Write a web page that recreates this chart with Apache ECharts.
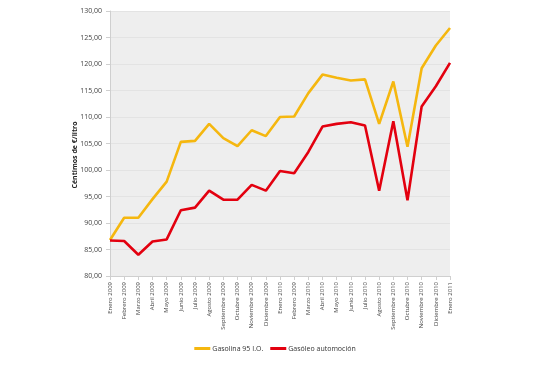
<!DOCTYPE html>
<html><head><meta charset="utf-8">
<script src="https://cdn.jsdelivr.net/npm/echarts@6/dist/echarts.min.js"></script>
<style>html,body{margin:0;padding:0;background:#fff}#c{width:550px;height:368px}</style>
</head><body><div id="c"></div>
<script>
const categories = ["Enero 2009","Febrero 2009","Marzo 2009","Abril 2009","Mayo 2009","Junio 2009","Julio 2009","Agosto 2009","Septiembre 2009","Octubre 2009","Noviembre 2009","Diciembre 2009","Enero 2010","Febrero 2009","Marzo 2010","Abril 2010","Mayo 2010","Junio 2010","Julio 2010","Agosto 2010","Septiembre 2010","Octubre 2010","Noviembre 2010","Diciembre 2010","Enero 2011"];
const gasolina = [86.8,91.0,91.0,94.5,97.8,105.3,105.5,108.7,106.0,104.5,107.5,106.4,110.0,110.1,114.5,118.0,117.4,116.9,117.1,108.7,116.7,104.4,119.2,123.5,126.8];
const gasoleo = [86.7,86.6,84.0,86.5,86.9,92.4,92.9,96.1,94.4,94.4,97.2,96.1,99.8,99.4,103.4,108.2,108.7,109.0,108.4,96.1,109.2,94.3,112.0,115.8,120.2];
const yTicks = {min:80, max:130, interval:5};
const yTitle = 'Céntimos de €/litro';

const chart = echarts.init(document.getElementById('c'), null, {renderer:'canvas'});
chart.setOption({
  animation:false,
  backgroundColor:'#ffffff',
  textStyle:{fontFamily:'Open Sans'},
  grid:{left:110, right:100, top:11, bottom:92, show:true, backgroundColor:'#eeeeee', borderWidth:0},
  graphic:[{
    type:'text', x:75, y:155, rotation:Math.PI/2,
    style:{text:yTitle, fontSize:7, fontWeight:'bold', fill:'#222', fontFamily:'Open Sans', align:'center', verticalAlign:'middle'}
  }],
  legend:{
    bottom:11, left:'center',
    icon:'rect', itemWidth:16, itemHeight:3, itemGap:7,
    textStyle:{fontSize:7, color:'#333', fontFamily:'Open Sans', padding:[0,0,0,-3]},
    data:['Gasolina 95 I.O.','Gasóleo automoción']
  },
  xAxis:{
    type:'category', data:categories, boundaryGap:false,
    axisLine:{lineStyle:{color:'#cfcfcf'}},
    axisTick:{show:true, lineStyle:{color:'#cfcfcf'}, length:4},
    axisLabel:{rotate:90, fontSize:6, color:'#444', interval:0, margin:6}
  },
  yAxis:{
    type:'value', min:yTicks.min, max:yTicks.max, interval:yTicks.interval,
    axisLine:{show:true, lineStyle:{color:'#cfcfcf'}},
    axisTick:{show:true, lineStyle:{color:'#cfcfcf'}, length:4},
    axisLabel:{fontSize:7, color:'#444', formatter:v=>v.toFixed(2).replace('.',',')},
    splitLine:{lineStyle:{color:'#e3e3e3'}}
  },
  series:[
    {name:'Gasolina 95 I.O.', type:'line', data:gasolina, symbol:'none', lineStyle:{width:2.6, color:'#f5b70f'}, itemStyle:{color:'#f5b70f'}},
    {name:'Gasóleo automoción', type:'line', data:gasoleo, symbol:'none', lineStyle:{width:2.6, color:'#e3000f'}, itemStyle:{color:'#e3000f'}}
  ]
});
</script></body></html>
